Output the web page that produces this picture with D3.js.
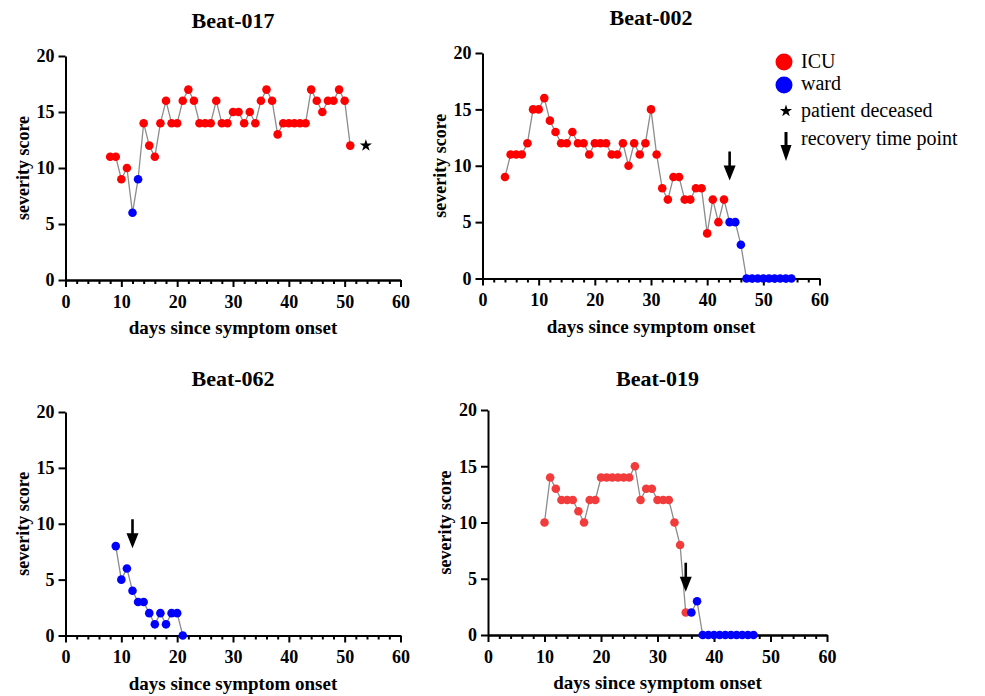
<!DOCTYPE html>
<html>
  <head>
    <title>Severity score</title>
    <script src="https://d3js.org/d3.v7.min.js"></script>
    <style>
      body { margin: 0; background: #ffffff; }
      .axis .domain { stroke: #000000; stroke-width: 2px; }
      .axis .tick line { stroke: #000000; stroke-width: 2px; }
      .axis--minor .tick text { display: none; }
    </style>
  </head>
  <body>
    <svg width="985" height="696"></svg>
    <script>
      const serif = "'Liberation Serif', 'Times New Roman', Times, serif";

      const xTicks = [0, 10, 20, 30, 40, 50, 60];
      const yTicks = [0, 5, 10, 15, 20];

      const days017 = [8, 9, 10, 11, 12, 13, 14, 15, 16, 17, 18, 19, 20, 21, 22, 23, 24, 25, 26, 27, 28, 29, 30, 31, 32, 33, 34, 35, 36, 37, 38, 39, 40, 41, 42, 43, 44, 45, 46, 47, 48, 49, 50, 51];
      const score017 = [11, 11, 9, 10, 6, 9, 14, 12, 11, 14, 16, 14, 14, 16, 17, 16, 14, 14, 14, 16, 14, 14, 15, 15, 14, 15, 14, 16, 17, 16, 13, 14, 14, 14, 14, 14, 17, 16, 15, 16, 16, 17, 16, 12];
      const place017 = ["ICU", "ICU", "ICU", "ICU", "ward", "ward", "ICU", "ICU", "ICU", "ICU", "ICU", "ICU", "ICU", "ICU", "ICU", "ICU", "ICU", "ICU", "ICU", "ICU", "ICU", "ICU", "ICU", "ICU", "ICU", "ICU", "ICU", "ICU", "ICU", "ICU", "ICU", "ICU", "ICU", "ICU", "ICU", "ICU", "ICU", "ICU", "ICU", "ICU", "ICU", "ICU", "ICU", "ICU"];
      const deceased017 = {day: 53.8, score: 12};

      const days002 = [4, 5, 6, 7, 8, 9, 10, 11, 12, 13, 14, 15, 16, 17, 18, 19, 20, 21, 22, 23, 24, 25, 26, 27, 28, 29, 30, 31, 32, 33, 34, 35, 36, 37, 38, 39, 40, 41, 42, 43, 44, 45, 46, 47, 48, 49, 50, 51, 52, 53, 54, 55];
      const score002 = [9, 11, 11, 11, 12, 15, 15, 16, 14, 13, 12, 12, 13, 12, 12, 11, 12, 12, 12, 11, 11, 12, 10, 12, 11, 12, 15, 11, 8, 7, 9, 9, 7, 7, 8, 8, 4, 7, 5, 7, 5, 5, 3, 0, 0, 0, 0, 0, 0, 0, 0, 0];
      const place002 = ["ICU", "ICU", "ICU", "ICU", "ICU", "ICU", "ICU", "ICU", "ICU", "ICU", "ICU", "ICU", "ICU", "ICU", "ICU", "ICU", "ICU", "ICU", "ICU", "ICU", "ICU", "ICU", "ICU", "ICU", "ICU", "ICU", "ICU", "ICU", "ICU", "ICU", "ICU", "ICU", "ICU", "ICU", "ICU", "ICU", "ICU", "ICU", "ICU", "ICU", "ward", "ward", "ward", "ward", "ward", "ward", "ward", "ward", "ward", "ward", "ward", "ward"];
      const recovery002 = {day: 44, score: 8.7};

      const days062 = [9, 10, 11, 12, 13, 14, 15, 16, 17, 18, 19, 20, 21];
      const score062 = [8, 5, 6, 4, 3, 3, 2, 1, 2, 1, 2, 2, 0];
      const place062 = ["ward", "ward", "ward", "ward", "ward", "ward", "ward", "ward", "ward", "ward", "ward", "ward", "ward"];
      const recovery062 = {day: 12, score: 7.8};

      const days019 = [10, 11, 12, 13, 14, 15, 16, 17, 18, 19, 20, 21, 22, 23, 24, 25, 26, 27, 28, 29, 30, 31, 32, 33, 34, 35, 36, 37, 38, 39, 40, 41, 42, 43, 44, 45, 46, 47];
      const score019 = [10, 14, 13, 12, 12, 12, 11, 10, 12, 12, 14, 14, 14, 14, 14, 14, 15, 12, 13, 13, 12, 12, 12, 10, 8, 2, 2, 3, 0, 0, 0, 0, 0, 0, 0, 0, 0, 0];
      const place019 = ["ICU", "ICU", "ICU", "ICU", "ICU", "ICU", "ICU", "ICU", "ICU", "ICU", "ICU", "ICU", "ICU", "ICU", "ICU", "ICU", "ICU", "ICU", "ICU", "ICU", "ICU", "ICU", "ICU", "ICU", "ICU", "ICU", "ward", "ward", "ward", "ward", "ward", "ward", "ward", "ward", "ward", "ward", "ward", "ward"];
      const recovery019 = {day: 35, score: 3.85};

      const legendLabels = ["ICU", "ward", "patient deceased", "recovery time point"];

      const starPath = d3.symbol(d3.symbolStar).size(46)();

      // arrow pointing down, tip at (0,0)
      function arrowPath(len, headLen, headWidth, shaft){
        return `M${-shaft / 2},${-len} L${shaft / 2},${-len} L${shaft / 2},${-headLen}` +
          ` L${headWidth / 2},${-headLen} L0,0 L${-headWidth / 2},${-headLen}` +
          ` L${-shaft / 2},${-headLen} Z`;
      }

      function panel(selection, props){
        const xScale = d3.scaleLinear().domain([0, 60]).range([props.left, props.right]);
        const yScale = d3.scaleLinear().domain([0, 20]).range([props.bottom, props.top]);
        const colorScale = d3.scaleOrdinal()
          .domain(["ICU", "ward"])
          .range([props.icuColor, "#0000ff"]);

        const data = props.days.map((d, i) => ({day: d, score: props.scores[i], place: props.places[i]}));

        const g = selection.append("g");

        g.append("text")
          .attr("x", (props.left + props.right) / 2)
          .attr("y", props.titleY)
          .attr("text-anchor", "middle")
          .style("font-family", serif)
          .style("font-size", "22px")
          .style("font-weight", "bold")
          .text(props.title);

        g.append("g")
          .attr("class", "axis axis--minor")
          .attr("transform", `translate(0, ${props.bottom})`)
          .call(d3.axisBottom(xScale)
            .tickValues(d3.range(0, 61, 2).filter(d => d % 10))
            .tickSizeInner(4)
            .tickSizeOuter(0));

        const xAxisG = g.append("g")
          .attr("class", "axis axis--x")
          .attr("transform", `translate(0, ${props.bottom})`)
          .call(d3.axisBottom(xScale)
            .tickValues(xTicks)
            .tickSizeInner(7)
            .tickSizeOuter(0)
            .tickPadding(8));

        const yAxisG = g.append("g")
          .attr("class", "axis axis--y")
          .attr("transform", `translate(${props.left}, 0)`)
          .call(d3.axisLeft(yScale)
            .tickValues(yTicks)
            .tickSizeInner(7)
            .tickSizeOuter(0)
            .tickPadding(4));

        [xAxisG, yAxisG].forEach(a => a.selectAll(".tick text")
          .attr("fill", "#000000")
          .style("font-family", serif)
          .style("font-size", "18px")
          .style("font-weight", "bold"));

        g.append("text")
          .attr("x", (props.left + props.right) / 2)
          .attr("y", props.bottom + 54)
          .attr("text-anchor", "middle")
          .style("font-family", serif)
          .style("font-size", "19px")
          .style("font-weight", "bold")
          .text("days since symptom onset");

        g.append("text")
          .attr("transform", `translate(${props.left - 37}, ${(props.top + props.bottom) / 2}) rotate(-90)`)
          .attr("text-anchor", "middle")
          .style("font-family", serif)
          .style("font-size", "18px")
          .style("font-weight", "bold")
          .text("severity score");

        const line = d3.line()
          .x(d => xScale(d.day))
          .y(d => yScale(d.score));

        g.append("path")
          .datum(data)
          .attr("d", line)
          .attr("fill", "none")
          .attr("stroke", "#8c8c8c")
          .attr("stroke-width", 1.3);

        g.selectAll(".point")
          .data(data)
          .enter().append("circle")
            .attr("class", "point")
            .attr("cx", d => xScale(d.day))
            .attr("cy", d => yScale(d.score))
            .attr("r", 4.3)
            .attr("fill", d => colorScale(d.place));

        if (props.deceased){
          g.append("path")
            .attr("d", starPath)
            .attr("transform", `translate(${xScale(props.deceased.day)}, ${yScale(props.deceased.score)})`)
            .attr("fill", "#000000");
        }

        if (props.recovery){
          g.append("path")
            .attr("d", arrowPath(29, 15, 12, 2.6))
            .attr("transform", `translate(${xScale(props.recovery.day)}, ${yScale(props.recovery.score)})`)
            .attr("fill", "#000000");
        }
      }

      function legend(selection, props){
        const g = selection.append("g")
          .attr("transform", `translate(${props.x}, ${props.y})`);

        g.append("circle").attr("cx", 0).attr("cy", 0).attr("r", 8.5).attr("fill", "#ff0000");
        g.append("circle").attr("cx", 0).attr("cy", 23).attr("r", 8.5).attr("fill", "#0000ff");
        g.append("path").attr("d", starPath)
          .attr("transform", "translate(2, 49)")
          .attr("fill", "#000000");
        g.append("path").attr("d", arrowPath(29, 16, 11, 3))
          .attr("transform", "translate(2, 99)")
          .attr("fill", "#000000");

        g.selectAll("text")
          .data(legendLabels)
          .enter().append("text")
            .attr("x", 17)
            .attr("y", (d, i) => [6, 28, 55, 83][i])
            .style("font-family", serif)
            .style("font-size", "20px")
            .text(d => d);
      }

      function main(){
        const svg = d3.select("svg");

        svg.call(panel, {
          title: "Beat-017", titleY: 28,
          left: 65.5, right: 400.5, top: 56, bottom: 280,
          days: days017, scores: score017, places: place017,
          icuColor: "#ff0000", deceased: deceased017
        });
        svg.call(panel, {
          title: "Beat-002", titleY: 25,
          left: 482.5, right: 819.5, top: 53, bottom: 278.5,
          days: days002, scores: score002, places: place002,
          icuColor: "#ff0000", recovery: recovery002
        });
        svg.call(panel, {
          title: "Beat-062", titleY: 386,
          left: 65.5, right: 400.5, top: 412, bottom: 635.5,
          days: days062, scores: score062, places: place062,
          icuColor: "#ff0000", recovery: recovery062
        });
        svg.call(panel, {
          title: "Beat-019", titleY: 386,
          left: 488, right: 827, top: 410, bottom: 635,
          days: days019, scores: score019, places: place019,
          icuColor: "#f23c3c", recovery: recovery019
        });

        svg.call(legend, {x: 784, y: 62});
      }
      main();
    </script>
  </body>
</html>
